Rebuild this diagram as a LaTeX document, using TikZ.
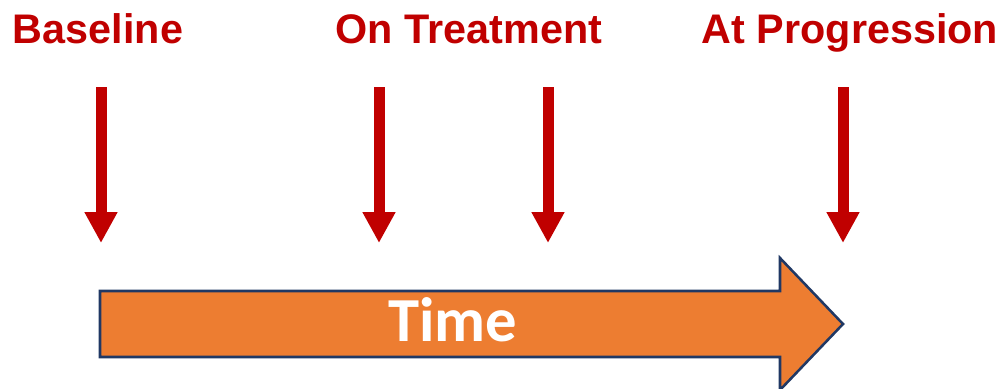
\documentclass[tikz,border=0pt]{standalone}
\usepackage{fontspec}
\setmainfont{Liberation Sans}
\newfontfamily\timefont{Carlito}
\usetikzlibrary{arrows.meta}
\definecolor{markred}{HTML}{C00000}
\definecolor{timeorange}{HTML}{ED7D31}
\definecolor{timenavy}{HTML}{203864}

\begin{document}
\begin{tikzpicture}[x=0.75pt,y=-0.75pt,
                    stagelabel/.style={anchor=base,inner sep=0pt,text=markred,
                                  font=\fontsize{31}{31}\selectfont\bfseries},
                    samplemark/.style={draw=markred,line width=8.25pt,
                                 -{Triangle[width=23.25pt,length=23.25pt]}},
                    timearrow/.style={fill=timeorange,draw=timenavy,line width=1.9pt}]

  \useasboundingbox (0,0) rectangle (1007,389);

  \node[stagelabel] (baseline) at (98,43)  {Baseline};
  \node[stagelabel] (ontreat)  at (469,43) {On Treatment};
  \node[stagelabel] (atprog)   at (850,43) {At Progression};

  % the time line
  \draw[timearrow] (100,291) -- (780,291) -- (780,258) -- (843,324)
                   -- (780,390) -- (780,357) -- (100,357) -- cycle;
  \node[anchor=base,inner sep=0pt,text=white,
        font=\timefont\fontsize{47}{47}\selectfont\bfseries] (time) at (453,341) {Time};

  % sampling points
  \foreach \x/\n in {101/b, 379/t1, 548/t2, 843/p} {
    \coordinate (\n top) at (\x,87);
    \coordinate (\n tip) at (\x,243);
    \draw[samplemark] (\n top) -- (\n tip);
  }
\end{tikzpicture}
\end{document}
